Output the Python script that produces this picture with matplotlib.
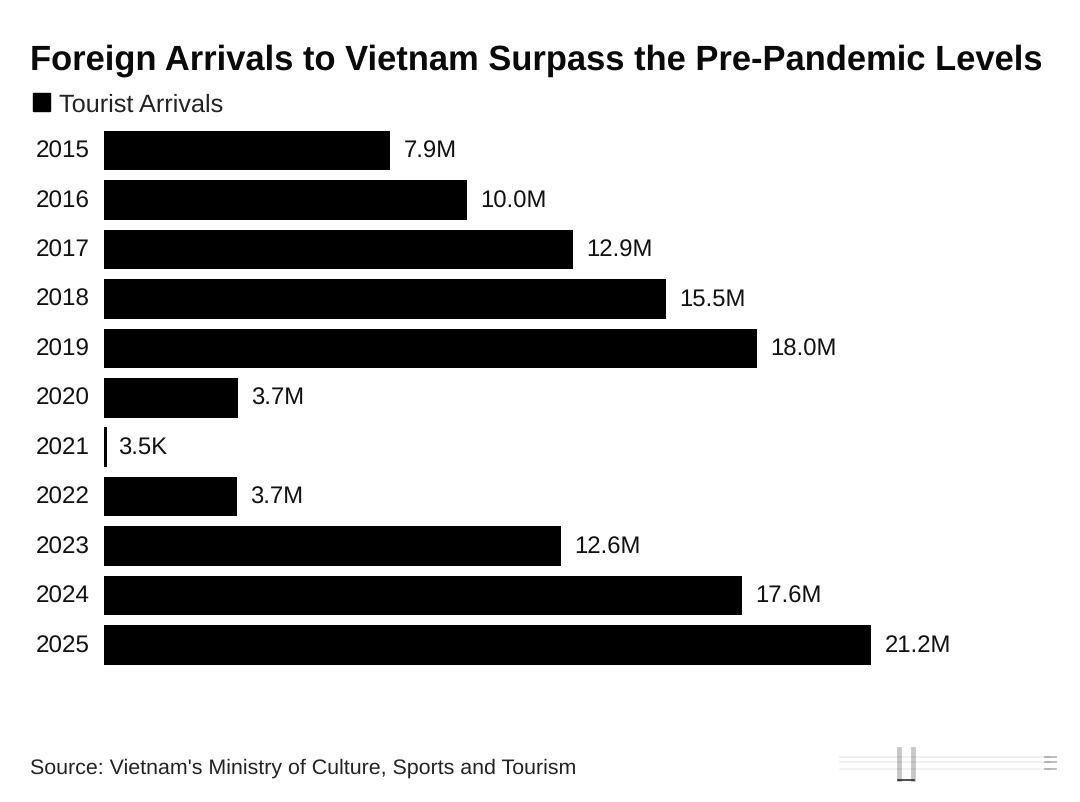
import numpy as np
import matplotlib
matplotlib.use("Agg")
import matplotlib.pyplot as plt
from matplotlib.patches import Patch
from matplotlib.lines import Line2D
from matplotlib.transforms import ScaledTranslation

years = ["2015", "2016", "2017", "2018", "2019", "2020", "2021", "2022", "2023", "2024", "2025"]
arrivals_m = [7.9, 10.03, 12.95, 15.53, 18.05, 3.7, 0.0035, 3.67, 12.63, 17.63, 21.2]
value_labels = ["7.9M", "10.0M", "12.9M", "15.5M", "18.0M", "3.7M", "3.5K", "3.7M", "12.6M", "17.6M", "21.2M"]
title = "Foreign Arrivals to Vietnam Surpass the Pre-Pandemic Levels"
series_name = "Tourist Arrivals"
source = "Source: Vietnam's Ministry of Culture, Sports and Tourism"

W, H = 1080, 803
plt.rcParams["font.family"] = ["Liberation Sans", "DejaVu Sans"]
plt.rcParams["text.hinting"] = "no_hinting"
fig = plt.figure(figsize=(W / 100, H / 100), dpi=100, facecolor="white")

PX_PER_M = 36.18
left, right, top, bottom = 104, 1080, 126.8, 670.7
ax = fig.add_axes([left / W, 1 - bottom / H, (right - left) / W, (bottom - top) / H])
ax.set_xlim(0, (right - left) / PX_PER_M)
ax.set_ylim(len(years) - 0.5, -0.5)

# smallest bar width that stays visible (the 2021 value is tiny on this scale)
min_visible = 3 / PX_PER_M
y = np.arange(len(years))
ax.barh(y, np.maximum(arrivals_m, min_visible), height=0.8, color="black", linewidth=0)

for yi, v, lab in zip(y, arrivals_m, value_labels):
    ax.annotate(lab, (v, yi), xytext=(9.7, 1.7), textcoords="offset points",
                ha="left", va="center_baseline", fontsize=17.2, color="#111111")

ax.set_yticks(y, years)
ax.tick_params(axis="y", length=0, pad=10.5, labelsize=17.5, labelcolor="#111111")
shift = ScaledTranslation(0, 1.7 / 72, fig.dpi_scale_trans)
for tl in ax.get_yticklabels():
    tl.set_transform(tl.get_transform() + shift)
ax.set_xticks([])
for s in ax.spines.values():
    s.set_visible(False)
ax.patch.set_alpha(0)

fig.text(30 / W, 1 - 57 / H, title, fontsize=24.85, fontweight="bold", color="#0a0a0a",
         ha="left", va="center_baseline")

fig.legend(handles=[Patch(color="black", label=series_name)], loc="center left",
           bbox_to_anchor=(33 / W, 1 - 105.5 / H), frameon=False, fontsize=18.2,
           handlelength=0.68, handleheight=0.68, handletextpad=0.36, borderpad=0,
           borderaxespad=0, labelcolor="#222222")

fig.text(30 / W, 1 - 766.5 / H, source, fontsize=15.43, color="#222222",
         ha="left", va="center_baseline")

# faint watermark residue at lower right
for yy, a in [(757.7, .07), (763, .07), (770, .06)]:
    fig.add_artist(Line2D([840 / W, 1050 / W], [1 - yy / H] * 2, color="black", lw=1.2, alpha=a))
    fig.add_artist(Line2D([1045 / W, 1056 / W], [1 - yy / H] * 2, color="black", lw=1.2, alpha=.3))
for xx in (899, 913):
    fig.add_artist(Line2D([xx / W, xx / W], [1 - 750 / H, 1 - 780 / H], color="black", lw=3.5, alpha=.22))
fig.add_artist(Line2D([898 / W, 914 / W], [1 - 781 / H] * 2, color="black", lw=1.2, alpha=.8))

fig.savefig("out.png", dpi=100, facecolor="white")
